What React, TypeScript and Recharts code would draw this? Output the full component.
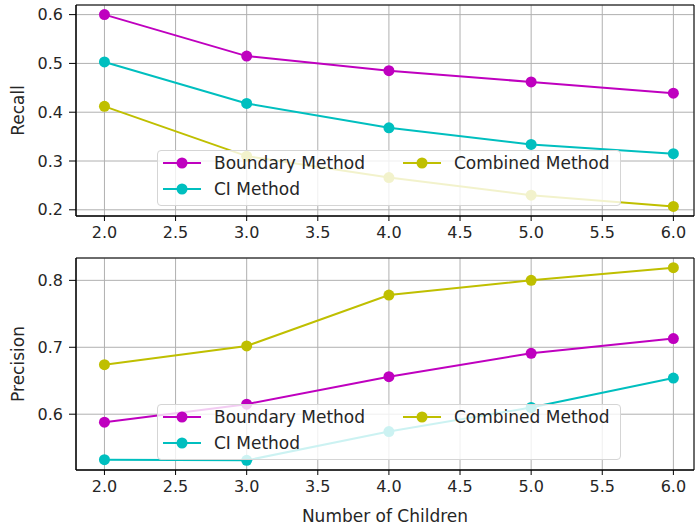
import React from 'react';
import {
  LineChart,
  Line,
  XAxis,
  YAxis,
  CartesianGrid,
  ReferenceArea,
} from 'recharts';

// number of children on the x axis
const xValues = [2, 3, 4, 5, 6];
const xTicks = [2.0, 2.5, 3.0, 3.5, 4.0, 4.5, 5.0, 5.5, 6.0];

const recallBoundary = [0.6, 0.515, 0.485, 0.462, 0.439];
const recallCI = [0.503, 0.418, 0.368, 0.334, 0.315];
const recallCombined = [0.412, 0.31, 0.266, 0.23, 0.207];
const recallTicks = [0.2, 0.3, 0.4, 0.5, 0.6];

const precisionBoundary = [0.588, 0.615, 0.656, 0.691, 0.713];
const precisionCI = [0.532, 0.531, 0.574, 0.61, 0.654];
const precisionCombined = [0.674, 0.702, 0.778, 0.8, 0.819];
const precisionTicks = [0.6, 0.7, 0.8];

const seriesNames = ['Boundary Method', 'CI Method', 'Combined Method'];
const seriesColors = ['#bf00bf', '#00bfbf', '#bfbf00'];
const seriesKeys = ['boundary', 'ci', 'combined'];

const FONT = '"DejaVu Sans", sans-serif';
const TEXT = '#262626';
const X_DOMAIN = [1.8, 6.145];

const recallData = xValues.map((x, i) => ({
  x,
  boundary: recallBoundary[i],
  ci: recallCI[i],
  combined: recallCombined[i],
}));

const precisionData = xValues.map((x, i) => ({
  x,
  boundary: precisionBoundary[i],
  ci: precisionCI[i],
  combined: precisionCombined[i],
}));

// matplotlib-style legend with 2 columns and a translucent box
function LegendBox({ top }: { top: number }) {
  const slots = [
    { left: 5, row: 0 },
    { left: 5, row: 1 },
    { left: 245, row: 0 },
  ];
  return (
    <div
      style={{
        position: 'absolute',
        left: 157,
        top,
        width: 464,
        height: 56,
        boxSizing: 'border-box',
        background: 'rgba(255,255,255,0.8)',
        border: '1px solid #d5d5d5',
        borderRadius: 4,
        fontFamily: FONT,
        fontSize: 17,
        color: TEXT,
      }}
    >
      {seriesNames.map((name, i) => (
        <div
          key={name}
          style={{
            position: 'absolute',
            left: slots[i].left,
            top: 2 + slots[i].row * 26,
            height: 20,
            display: 'flex',
            alignItems: 'center',
            whiteSpace: 'nowrap',
          }}
        >
          <svg width={38} height={14} style={{ marginRight: 13 }}>
            <line x1={0} y1={7} x2={38} y2={7} stroke={seriesColors[i]} strokeWidth={2} />
            <circle cx={19} cy={7} r={5.5} fill={seriesColors[i]} />
          </svg>
          <span>{name}</span>
        </div>
      ))}
    </div>
  );
}

interface PanelProps {
  data: { x: number; boundary: number; ci: number; combined: number }[];
  yDomain: [number, number];
  yTicks: number[];
  yLabel: string;
  height: number;
  marginTop: number;
  xAxisHeight: number;
  xLabel?: string;
}

function Panel({ data, yDomain, yTicks, yLabel, height, marginTop, xAxisHeight, xLabel }: PanelProps) {
  const tickStyle = { fontSize: 16, fill: TEXT, fontFamily: FONT };
  return (
    <LineChart
      width={695}
      height={height}
      data={data}
      margin={{ top: marginTop, right: 1, left: 0, bottom: 0 }}
    >
      <CartesianGrid stroke="#b0b0b0" strokeWidth={1} />
      <XAxis
        dataKey="x"
        type="number"
        domain={X_DOMAIN}
        ticks={xTicks}
        interval={0}
        tickFormatter={(v: number) => v.toFixed(1)}
        tick={tickStyle}
        tickSize={5}
        tickMargin={6}
        height={xAxisHeight}
        stroke="#000"
        label={
          xLabel
            ? { value: xLabel, position: 'insideBottom', offset: 6, fill: TEXT, fontSize: 17, fontFamily: FONT }
            : undefined
        }
      />
      <YAxis
        type="number"
        domain={yDomain}
        ticks={yTicks}
        interval={0}
        tickFormatter={(v: number) => v.toFixed(1)}
        tick={tickStyle}
        tickSize={7}
        tickMargin={6}
        width={76}
        stroke="#000"
        label={{
          value: yLabel,
          angle: -90,
          position: 'insideLeft',
          offset: 18,
          fill: TEXT,
          fontSize: 17,
          fontFamily: FONT,
          style: { textAnchor: 'middle' },
        }}
      />
      {seriesKeys.map((key, i) => (
        <Line
          key={key}
          dataKey={key}
          name={seriesNames[i]}
          type="linear"
          stroke={seriesColors[i]}
          strokeWidth={2}
          dot={{ r: 5.5, fill: seriesColors[i], stroke: seriesColors[i], strokeWidth: 0 }}
          activeDot={false}
          isAnimationActive={false}
        />
      ))}
      <ReferenceArea
        x1={X_DOMAIN[0]}
        x2={X_DOMAIN[1]}
        y1={yDomain[0]}
        y2={yDomain[1]}
        fill="none"
        stroke="#000"
        strokeWidth={1}
        ifOverflow="visible"
      />
    </LineChart>
  );
}

export default function App() {
  return (
    <div
      style={{
        position: 'absolute',
        left: 0,
        top: 0,
        width: 695,
        height: 528,
        background: '#fff',
        overflow: 'hidden',
      }}
    >
      <Panel
        data={recallData}
        yDomain={[0.1873, 0.6197]}
        yTicks={recallTicks}
        yLabel="Recall"
        height={256}
        marginTop={5}
        xAxisHeight={40}
      />
      <div style={{ position: 'absolute', left: 0, top: 256 }}>
        <Panel
          data={precisionData}
          yDomain={[0.5166, 0.8334]}
          yTicks={precisionTicks}
          yLabel="Precision"
          height={272}
          marginTop={2}
          xAxisHeight={58}
          xLabel="Number of Children"
        />
      </div>
      <LegendBox top={150} />
      <LegendBox top={404} />
    </div>
  );
}
